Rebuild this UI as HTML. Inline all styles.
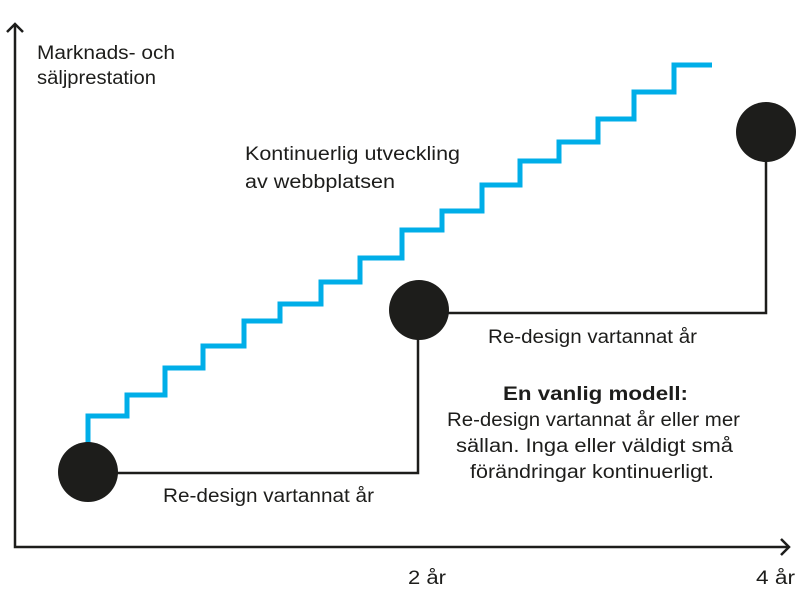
<!DOCTYPE html>
<html><head><meta charset="utf-8"><style>
html,body{margin:0;padding:0;background:#fff;}
svg{display:block;}
text{font-family:"Liberation Sans",sans-serif;fill:#1d1d1b;font-size:19px;}
</style></head><body>
<svg width="800" height="597" viewBox="0 0 800 597" xmlns="http://www.w3.org/2000/svg">
<g stroke="#1d1d1b" stroke-width="2.5" fill="none">
<polyline points="15,24 15,547 789,547"/>
<polyline points="7,32 15,24 23,32"/>
<polyline points="781,539 789,547 781,555"/>
</g>
<polyline fill="none" stroke="#00aee8" stroke-width="5" points="88,444 88,416 127,416 127,395 165,395 165,368 203,368 203,346 244,346 244,321 280,321 280,304 321,304 321,282 360,282 360,258 402,258 402,230 442,230 442,211 482,211 482,185 520,185 520,161 559,161 559,142 598,142 598,119 634,119 634,92 674,92 674,65 712,65"/>
<g stroke="#1d1d1b" stroke-width="2.5" fill="none">
<polyline points="88,473 418,473 418,310"/>
<polyline points="418,313 766,313 766,132"/>
</g>
<g fill="#1d1d1b">
<circle cx="88" cy="472" r="30"/>
<circle cx="419" cy="310" r="30"/>
<circle cx="766" cy="132" r="30"/>
</g>
<text x="37" y="59" textLength="138" lengthAdjust="spacingAndGlyphs">Marknads- och</text>
<text x="37" y="84" textLength="119" lengthAdjust="spacingAndGlyphs">säljprestation</text>
<text x="245" y="160" textLength="215" lengthAdjust="spacingAndGlyphs">Kontinuerlig utveckling</text>
<text x="245" y="188" textLength="150" lengthAdjust="spacingAndGlyphs">av webbplatsen</text>
<text x="488" y="343" textLength="209" lengthAdjust="spacingAndGlyphs">Re-design vartannat år</text>
<text x="163" y="502" textLength="211" lengthAdjust="spacingAndGlyphs">Re-design vartannat år</text>
<text x="503" y="400" textLength="185" lengthAdjust="spacingAndGlyphs" font-weight="bold">En vanlig modell:</text>
<text x="447" y="426" textLength="293" lengthAdjust="spacingAndGlyphs">Re-design vartannat år eller mer</text>
<text x="456" y="452" textLength="277" lengthAdjust="spacingAndGlyphs">sällan. Inga eller väldigt små</text>
<text x="470" y="478" textLength="244" lengthAdjust="spacingAndGlyphs">förändringar kontinuerligt.</text>
<text x="408" y="584" textLength="38" lengthAdjust="spacingAndGlyphs">2 år</text>
<text x="756" y="584" textLength="39" lengthAdjust="spacingAndGlyphs">4 år</text>
</svg>
</body></html>
